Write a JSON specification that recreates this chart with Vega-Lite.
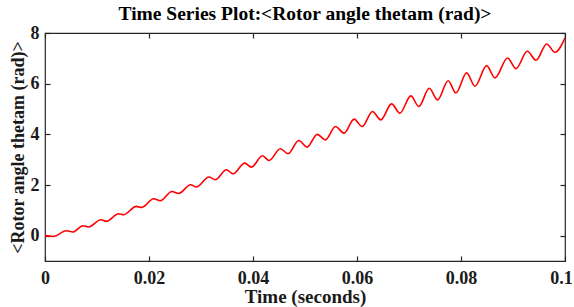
{
  "$schema": "https://vega.github.io/schema/vega-lite/v6.json",
  "autosize": "none",
  "width": 520,
  "height": 228,
  "padding": {"left": 45, "top": 33, "right": 9, "bottom": 46},
  "background": "white",
  "config": {
    "view": {"stroke": "#262626", "strokeWidth": 1.2},
    "font": "Liberation Serif",
    "axis": {
      "grid": false,
      "domain": false,
      "tickColor": "#262626",
      "tickSize": -5,
      "tickWidth": 1.2,
      "labelFont": "Liberation Serif",
      "labelFontSize": 18,
      "labelFontWeight": "bold",
      "labelColor": "#1a1a1a",
      "titleFont": "Liberation Serif",
      "titleFontSize": 19,
      "titleFontWeight": "bold",
      "titleColor": "#1a1a1a"
    }
  },
  "title": {
    "text": "Time Series Plot:<Rotor angle thetam (rad)>",
    "font": "Liberation Serif",
    "fontSize": 19.5,
    "fontWeight": "bold",
    "color": "#000000",
    "offset": 0
  },
  "data": {
    "values": [
      {"t": 0, "y": 0},
      {"t": 0.00164, "y": -0.03},
      {"t": 0.00408, "y": 0.197},
      {"t": 0.00535, "y": 0.146},
      {"t": 0.00728, "y": 0.394},
      {"t": 0.00837, "y": 0.343},
      {"t": 0.01074, "y": 0.631},
      {"t": 0.01178, "y": 0.564},
      {"t": 0.01415, "y": 0.867},
      {"t": 0.01511, "y": 0.828},
      {"t": 0.01756, "y": 1.155},
      {"t": 0.01863, "y": 1.115},
      {"t": 0.02089, "y": 1.458},
      {"t": 0.02218, "y": 1.379},
      {"t": 0.02441, "y": 1.746},
      {"t": 0.0257, "y": 1.667},
      {"t": 0.02801, "y": 2.01},
      {"t": 0.02911, "y": 1.919},
      {"t": 0.03153, "y": 2.313},
      {"t": 0.03276, "y": 2.207},
      {"t": 0.03488, "y": 2.601},
      {"t": 0.03615, "y": 2.443},
      {"t": 0.0384, "y": 2.865},
      {"t": 0.03969, "y": 2.707},
      {"t": 0.04181, "y": 3.153},
      {"t": 0.04308, "y": 2.968},
      {"t": 0.04527, "y": 3.429},
      {"t": 0.04674, "y": 3.232},
      {"t": 0.0488, "y": 3.756},
      {"t": 0.0504, "y": 3.496},
      {"t": 0.05236, "y": 4.0},
      {"t": 0.05394, "y": 3.783},
      {"t": 0.05586, "y": 4.307},
      {"t": 0.05752, "y": 4.047},
      {"t": 0.05944, "y": 4.599},
      {"t": 0.06098, "y": 4.307},
      {"t": 0.06298, "y": 4.899},
      {"t": 0.06458, "y": 4.571},
      {"t": 0.06664, "y": 5.202},
      {"t": 0.06824, "y": 4.835},
      {"t": 0.07036, "y": 5.517},
      {"t": 0.0719, "y": 5.096},
      {"t": 0.07388, "y": 5.821},
      {"t": 0.0755, "y": 5.36},
      {"t": 0.07754, "y": 6.116},
      {"t": 0.07902, "y": 5.635},
      {"t": 0.08108, "y": 6.424},
      {"t": 0.08268, "y": 5.9},
      {"t": 0.08493, "y": 6.711},
      {"t": 0.08653, "y": 6.227},
      {"t": 0.08897, "y": 7.015},
      {"t": 0.09057, "y": 6.593},
      {"t": 0.09274, "y": 7.279},
      {"t": 0.09442, "y": 6.924},
      {"t": 0.09648, "y": 7.567},
      {"t": 0.09807, "y": 7.239},
      {"t": 0.1, "y": 7.803}
    ]
  },
  "layer": [
    {
      "mark": {"type": "line", "color": "#ff0000", "strokeWidth": 1.6, "interpolate": "monotone", "clip": true},
      "encoding": {
        "x": {
          "field": "t", "type": "quantitative",
          "scale": {"domain": [0, 0.1], "nice": false, "zero": false},
          "axis": {
            "values": [0, 0.02, 0.04, 0.06, 0.08, 0.1],
            "format": ".2~f",
            "title": "Time (seconds)",
            "labelPadding": 13,
            "titlePadding": 0,
            "labelFlush": false,
            "labelOffset": {"condition": {"test": "datum.value >= 0.099", "value": -4}, "value": 0}
          }
        },
        "y": {
          "field": "y", "type": "quantitative",
          "scale": {"domain": [-1, 8], "nice": false, "zero": false},
          "axis": {"values": [0, 2, 4, 6, 8], "title": "<Rotor angle thetam (rad)>", "titleFontSize": 18, "labelPadding": 11, "titlePadding": 3}
        }
      }
    },
    {
      "mark": {"type": "line", "opacity": 0},
      "encoding": {
        "x": {
          "field": "t", "type": "quantitative",
          "scale": {"domain": [0, 0.1], "nice": false, "zero": false},
          "axis": {"values": [0, 0.02, 0.04, 0.06, 0.08, 0.1], "labels": false, "title": null}
        },
        "y": {
          "field": "y", "type": "quantitative",
          "scale": {"domain": [-1, 8], "nice": false, "zero": false},
          "axis": {"values": [0, 2, 4, 6, 8], "labels": false, "title": null}
        }
      }
    }
  ],
  "resolve": {"axis": {"x": "independent", "y": "independent"}}
}
